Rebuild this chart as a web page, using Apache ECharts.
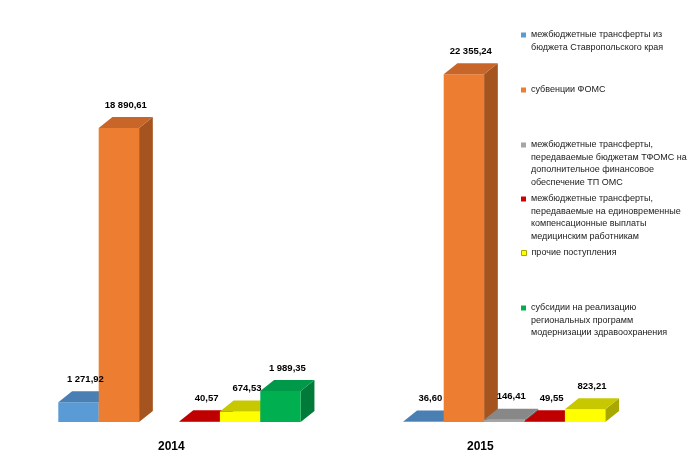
<!DOCTYPE html>
<html><head><meta charset="utf-8">
<script src="https://cdn.jsdelivr.net/npm/echarts@6/dist/echarts.min.js"></script>
<style>html,body{margin:0;padding:0;background:#fff}#c{width:697px;height:464px}</style>
</head><body><div id="c"></div><script>
const categories = ['2014', '2015'];
const seriesNames = [
  'межбюджетные трансферты из\nбюджета Ставропольского края',
  'субвенции ФОМС',
  'межбюджетные трансферты,\nпередаваемые бюджетам ТФОМС на\nдополнительное финансовое\nобеспечение ТП ОМС',
  'межбюджетные трансферты,\nпередаваемые на единовременные\nкомпенсационные выплаты\nмедицинским работникам',
  'прочие поступления',
  'субсидии на реализацию\nрегиональных программ\nмодернизации здравоохранения'
];
const transfersKrai   = [1271.92, 36.60];
const subventionsFoms = [18890.61, 22355.24];
const transfersTfoms  = [null, 146.41];
const transfersComp   = [40.57, 49.55];
const otherIncome     = [674.53, 823.21];
const subsidiesModern = [1989.35, null];
const allValues = [transfersKrai, subventionsFoms, transfersTfoms, transfersComp, otherIncome, subsidiesModern];

const faces = [
  {front:'#5B9BD5', top:'#4A7FB3', side:'#3E6C99'},
  {front:'#ED7D31', top:'#C8662A', side:'#A55420'},
  {front:'#A5A5A5', top:'#888888', side:'#6F6F6F'},
  {front:'#D00000', top:'#C00000', side:'#990000'},
  {front:'#FFFF00', top:'#C8C800', side:'#A8A800'},
  {front:'#00B050', top:'#00994A', side:'#007A38'}
];
const legendY = [35, 90, 145, 199, 253, 308];
const LH = 12.4;

function fmt(v){
  const p = v.toFixed(2).split('.');
  return p[0].replace(/\B(?=(\d{3})+(?!\d))/g, ' ') + ',' + p[1];
}

function makeRender(idx){
  return function(params, api){
    const v = api.value(1);
    if (v == null || isNaN(v)) return;
    const cat = api.value(0);
    const b = api.coord([cat, 0]);
    const t = api.coord([cat, v]);
    const band = api.size([1, 0])[0];
    const w = band * 0.1171;
    const x0 = b[0] - 3 * w + idx * w;
    const dx = w * 0.34, dy = 11;
    const yb = b[1], yt = t[1];
    const f = faces[idx];
    return {
      type: 'group',
      children: [
        {type:'polygon', shape:{points:[[x0+w,yb],[x0+w+dx,yb-dy],[x0+w+dx,yt-dy],[x0+w,yt]]}, style:{fill:f.side}},
        {type:'rect', shape:{x:x0, y:yt, width:w, height:yb-yt}, style:{fill:f.front}},
        {type:'polygon', shape:{points:[[x0,yt],[x0+dx,yt-dy],[x0+w+dx,yt-dy],[x0+w,yt]]}, style:{fill:f.top}},
        {type:'text', z2:100, style:{text: fmt(v), x: x0 + w/2 + dx/2, y: yt - dy - 12, align:'center', verticalAlign:'middle',
          font:'bold 9.5px "Liberation Sans", Arial, sans-serif', fill:'#000'}}
      ]
    };
  };
}

const chart = echarts.init(document.getElementById('c'));
chart.setOption({
  animation: false,
  backgroundColor: '#fff',
  grid: {left: 7, width: 700, top: 33, height: 389},
  xAxis: {type:'category', data: categories, show:false},
  yAxis: {type:'value', min:0, max:25000, show:false},
  legend: seriesNames.map((n, i) => {
    const lines = n.split('\n').length;
    return {
      orient:'vertical', left: 521, top: legendY[i] - (lines - 1) * LH - LH / 2,
      padding: 0, itemWidth: 5, itemHeight: 5, icon: 'rect', selectedMode: false,
      data: [{name: n, itemStyle: {color: faces[i].front, borderColor: i === 4 ? '#A8A800' : faces[i].front, borderWidth: i === 4 ? 1 : 0}}],
      formatter: s => '\n'.repeat(lines - 1) + s,
      textStyle: {fontSize: 9, lineHeight: LH, color:'#1a1a1a', fontFamily:'"Liberation Sans", Arial, sans-serif'}
    };
  }),
  graphic: [
    {type:'text', left: 172 - 14, top: 441, style:{text: categories[0], font:'bold 12px "Liberation Sans", Arial, sans-serif', fill:'#000'}},
    {type:'text', left: 481 - 14, top: 441, style:{text: categories[1], font:'bold 12px "Liberation Sans", Arial, sans-serif', fill:'#000'}}
  ],
  series: seriesNames.map((n, i) => ({
    type:'custom', name: n,
    itemStyle: {color: faces[i].front},
    renderItem: makeRender(i),
    encode: {x: 0, y: 1},
    data: categories.map((c, k) => [k, allValues[i][k]])
  }))
});
</script></body></html>
